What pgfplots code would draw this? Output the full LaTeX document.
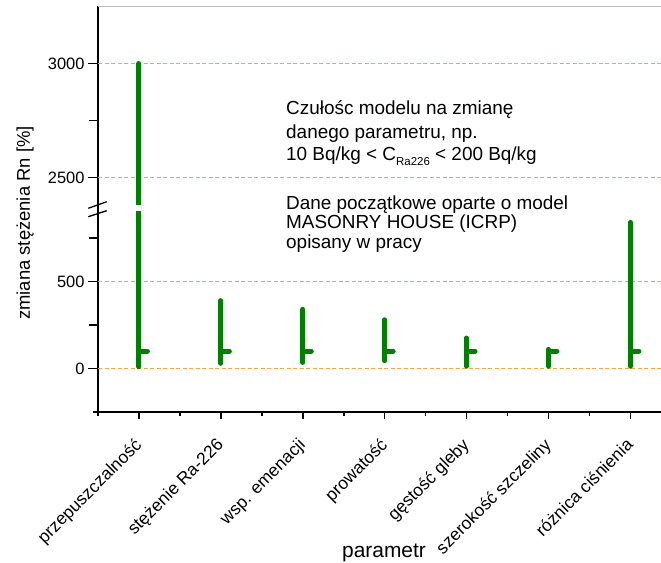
\documentclass[border=0pt]{standalone}
\usepackage{pgfplots}
\pgfplotsset{compat=1.18}
\usepackage{fontspec}
\setmainfont{Liberation Sans}
\definecolor{bargreen}{RGB}{0,128,0}
\definecolor{gridorange}{RGB}{247,165,70}
\pgfdeclareplotmark{rtick}{\pgfpathmoveto{\pgfpointorigin}\pgfpathlineto{\pgfpoint{8.5bp}{0pt}}\pgfusepathqstroke}
\begin{document}
\begin{tikzpicture}[x=1bp,y=1bp]
\path[use as bounding box] (0,0) rectangle (661,-563);
\tikzset{gridline/.style={draw=gridorange, line width=1.7bp, dash pattern=on 4bp off 2.5bp}}
\pgfplotsset{
  common/.style={scale only axis, width=573.3bp, xmin=0.5, xmax=7.5, clip=true,
    axis line style={line width=1.6bp, -, black},
    tick style={line width=1.6bp, draw=black},
    tick align=outside,
    /pgf/number format/assume math mode=true, /pgf/number format/1000 sep={},
    scaled y ticks=false,
    yticklabel style={font=\fontsize{16.5}{16.5}\selectfont},
    major tick length=10bp, minor tick length=9bp},
  rng/.style={bargreen, line width=5bp, line cap=round, unbounded coords=jump, mark=none},
  base/.style={only marks, mark=rtick, mark options={bargreen, line width=5bp, line cap=round}},
}
% lower part of the broken y axis
\begin{axis}[common, name=lower, at={(98bp,-412bp)}, anchor=south west, height=200.1bp,
  ymin=-250, ymax=900, axis y line*=left, axis x line=none,
  ytick={0,500}, xtick=\empty,
  extra y ticks={250,750}, extra y tick labels={},
  extra y tick style={major tick length=9bp}]
\draw[gridline] (axis cs:0.5,0) -- (axis cs:7.5,0);
\draw[gridline] (axis cs:0.5,500) -- (axis cs:7.5,500);
\addplot[rng] coordinates {(1,10)(1,3000) (2,nan) (2,30)(2,390) (3,nan) (3,35)(3,340)
  (4,nan) (4,45)(4,280) (5,nan) (5,13)(5,175) (6,nan) (6,13)(6,110) (7,nan) (7,13)(7,840)};
\addplot[base] coordinates {(1,100)(2,100)(3,100)(4,100)(5,100)(6,100)(7,100)};
\end{axis}
% upper part of the broken y axis
\begin{axis}[common, name=upper, at={(98bp,-204.86bp)}, anchor=south west, height=198.36bp,
  ymin=2380, ymax=3250, axis y line*=left, axis x line=none,
  ytick={2500,3000}, xtick=\empty,
  extra y ticks={2750}, extra y tick labels={},
  extra y tick style={major tick length=9bp}]
\draw[gridline] (axis cs:0.5,2500) -- (axis cs:7.5,2500);
\draw[gridline] (axis cs:0.5,3000) -- (axis cs:7.5,3000);
\draw[draw=black!25, line width=1.6bp] (axis cs:0.5,3250) -- (axis cs:7.5,3250);
\addplot[rng] coordinates {(1,10)(1,3000)};
\end{axis}
% x axis
\begin{axis}[common, at={(98bp,-412bp)}, anchor=south west, height=200.1bp,
  ymin=-250, ymax=900, axis x line*=bottom, axis y line=none,
  major tick length=7bp, minor tick length=3.5bp,
  xtick={1,2,3,4,5,6,7}, ytick=\empty,
  extra x ticks={0.5,1.5,2.5,3.5,4.5,5.5,6.5,7.5}, extra x tick labels={},
  extra x tick style={major tick length=3.5bp},
  xticklabels={przepuszczalność,stężenie Ra-226,wsp. emenacji,prowatość,gęstość gleby,szerokość szczeliny,różnica ciśnienia},
  xticklabel style={xshift=-5.5bp, yshift=-13bp, rotate=45, anchor=north east, font=\fontsize{17.5}{17.5}\selectfont}]
\end{axis}
\draw[line width=1.6bp] (lower.north west) -- (upper.south west);
\draw[line width=1.6bp] (93,-412) -- (98,-412);
\draw[line width=1.3bp] (88.3,-208.3) -- (106.7,-201.7);
\draw[line width=1.3bp] (88.3,-216.7) -- (106.7,-210.7);
\node[rotate=90, font=\fontsize{18.5}{18.5}\selectfont] at (25,-223) {zmiana stężenia Rn [\%]};
\node[anchor=base, font=\fontsize{21}{21}\selectfont] at (384,-557) {parametr};
\begin{scope}[every node/.style={anchor=base west, inner sep=0pt, font=\fontsize{19}{19}\selectfont}]
\node at (286,-115) {Czułośc modelu na zmianę};
\node at (286,-139) {danego parametru, np.};
\node at (286,-161) {10 Bq/kg < C\raisebox{-5bp}{\fontsize{11.5}{11.5}\selectfont Ra226} < 200 Bq/kg};
\node at (286,-209) {Dane początkowe oparte o model};
\node at (286,-228) {MASONRY HOUSE (ICRP)};
\node at (286,-248) {opisany w pracy};
\end{scope}
\end{tikzpicture}
\end{document}
